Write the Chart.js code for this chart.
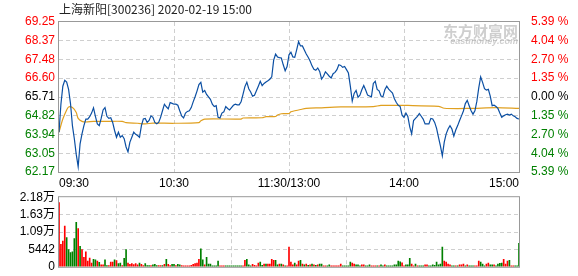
<!doctype html>
<html>
<head>
<meta charset="utf-8">
<title>上海新阳 分时图</title>
<script src="https://cdn.jsdelivr.net/npm/chart.js@4.4.1/dist/chart.umd.min.js"></script>
<style>
  html, body { margin: 0; padding: 0; background: #fff; overflow: hidden; }
  #price { position: absolute; left: 0; top: 0; }
  #volume { position: absolute; left: 0; top: 186px; }
</style>
</head>
<body>
<canvas id="price" width="578" height="190"></canvas>
<canvas id="volume" width="578" height="92"></canvas>
<script>
var TITLE = '上海新阳[300236] 2020-02-19 15:00';
var PREV_CLOSE = 65.71;

// minutes since 09:30 (lunch break removed)
var timeTicks = [0, 60, 120, 180, 240];
var timeLabels = ['09:30', '10:30', '11:30/13:00', '14:00', '15:00'];

var priceTicks = [62.17, 63.05, 63.94, 64.82, 65.71, 66.60, 67.48, 68.37, 69.25];
var pctLabels = ['5.39 %', '4.04 %', '2.70 %', '1.35 %', '0.00 %', '1.35 %', '2.70 %', '4.04 %', '5.39 %'];

var volTicks = [0, 5442, 10884, 16326, 21768];
var volLabels = ['0', '5442', '1.09万', '1.63万', '2.18万'];

// one price per minute
var price = [
  64.05,65.37,66.22,66.50,66.41,66.07,65.40,64.36,63.74,63.00,
  62.42,63.50,63.97,64.36,64.67,64.67,64.78,64.95,65.20,64.80,
  64.44,64.36,64.70,65.10,65.21,64.80,64.70,64.73,64.51,64.13,
  63.81,64.05,63.81,63.89,63.74,63.35,63.12,63.58,63.81,64.05,
  63.95,63.89,63.81,64.36,64.67,64.70,64.51,64.60,64.82,64.75,
  64.51,64.45,64.51,64.75,65.06,65.37,65.25,65.15,65.45,65.41,
  65.37,65.37,65.32,65.06,64.82,64.72,64.95,65.03,65.06,65.21,
  65.48,65.72,65.99,66.30,66.40,65.94,66.02,65.83,65.72,65.60,
  65.37,65.26,65.30,64.75,64.72,64.95,65.01,65.26,65.17,65.10,
  65.21,65.32,65.37,65.34,65.34,65.48,65.83,66.20,66.41,66.10,
  65.95,65.75,65.79,66.00,66.22,66.45,66.25,66.35,66.42,66.48,
  66.55,66.66,67.45,67.73,67.60,67.57,67.55,67.23,66.95,67.15,
  67.70,67.82,67.60,67.58,67.93,68.32,68.12,68.12,67.93,67.74,
  67.59,67.41,67.18,67.02,66.97,67.08,66.92,66.56,66.69,66.90,
  66.80,66.69,66.61,66.81,66.87,67.00,67.23,67.20,67.11,67.15,
  67.00,66.84,66.22,65.52,65.88,66.02,65.70,65.80,66.05,66.25,
  66.04,65.80,65.76,65.72,66.35,66.45,66.07,66.00,65.76,65.72,
  66.05,66.22,66.08,65.99,65.90,65.63,65.45,65.32,65.26,64.85,
  64.75,64.95,64.79,64.30,63.97,64.60,64.70,64.80,64.93,64.80,
  64.67,64.44,64.44,64.44,64.70,64.67,64.51,64.23,63.80,63.40,
  62.93,63.58,63.97,64.20,64.36,64.20,63.86,64.15,64.36,64.60,
  64.82,65.05,65.40,65.55,65.30,65.06,64.90,65.06,65.50,66.14,
  66.66,66.40,66.10,66.04,66.07,65.75,65.30,65.32,65.26,65.17,
  64.95,64.75,64.82,64.87,64.90,64.86,64.90,64.82,64.78,64.70,
  64.67
];

// average price line, read at these minutes
var avgTimes = [0,2,4,5,7,9,10,12,14,18,25,33,35,41,45,49,60,73,74,76,95,96,106,108,113,114,116,120,121,123,126,129,136,147,164,168,182,198,201,214,228,240];
var avgPrice = [64.05,64.67,65.10,65.24,65.21,64.98,64.70,64.56,64.53,64.56,64.56,64.56,64.50,64.47,64.44,64.48,64.47,64.50,64.59,64.67,64.67,64.72,64.73,64.78,64.79,64.86,64.92,64.93,65.01,65.06,65.12,65.17,65.20,65.24,65.26,65.31,65.31,65.27,65.18,65.17,65.21,65.17];

// volume per minute (shares) and direction r = up, g = down
var volume = [
  20100,7060,8040,12750,9120,5390,4410,4710,8830,13930,
  11960,6370,5390,2940,4710,1770,2750,1180,2350,2160,
  1770,1370,590,590,2160,390,390,1470,1470,2160,
  1960,980,1180,390,2650,5390,1180,780,980,690,
  980,590,1180,780,390,980,390,390,390,590,
  780,390,390,390,390,780,2350,780,390,780,
  780,390,780,590,390,290,290,290,290,490,
  780,980,1180,2350,5590,2160,590,2940,880,880,
  290,290,290,1770,290,290,290,290,290,290,
  290,290,290,290,290,290,290,2060,2350,590,
  290,780,490,290,1180,1470,490,880,880,880,
  880,2350,2060,2060,590,880,880,590,290,290,
  6180,1470,590,1180,590,1770,2060,880,590,880,
  490,590,880,590,490,590,880,880,290,290,
  290,590,290,290,290,290,290,880,290,290,
  290,290,1470,1180,880,590,590,290,590,590,
  290,290,590,290,290,290,290,290,590,290,
  590,290,290,290,290,590,590,1770,1570,1270,
  290,590,590,2650,880,290,880,290,290,290,
  290,590,590,290,290,590,490,1470,590,880,
  6180,1770,1470,880,590,290,290,290,290,590,
  590,880,290,590,290,290,290,290,290,1770,
  1470,880,290,880,1180,590,590,590,290,880,
  1080,1180,2350,880,1770,2060,290,290,290,290,
  7360
];
var volDir = ('rrrrgggggg' + 'rgrrrrrrgg' + 'rgrrggrrrg' + 'rggrggrrrr' + 'rrgrrgggrg' +
              'ggrrgrgrrg' + 'grggrrrrrr' + 'rrrrggrggg' + 'ggggrrrggg' + 'ggggggrrgg' +
              'grrrrggrgr' + 'rrrggrgrgr' + 'rrrgrrgrgr' + 'grgrgrggrr' + 'ggrrrrrrgg' +
              'gggrrgggrr' + 'gggrrrgrgg' + 'rggggggggr' + 'rgggrrgrgg' + 'grrggggggg' +
              'grrrrggrgr' + 'rrgrgggrrr' + 'gggrrggrgg' + 'ggrrrgrrgg' + 'g').split('');

var RED = '#ff0000', GREEN = '#008000', GRID = '#cfcfcf', BOX = '#999999';
var CLEAR = 'rgba(0,0,0,0)';

Chart.defaults.font.family = "'Liberation Sans', 'Noto Sans CJK SC', sans-serif";
Chart.defaults.font.size = 12;

function priceColor(v) {
  if (Math.abs(v - PREV_CLOSE) < 0.001) return '#000';
  return v > PREV_CLOSE ? RED : GREEN;
}

var boxPlugin = {
  id: 'box',
  afterDatasetsDraw: function(chart) {
    var a = chart.chartArea, ctx = chart.ctx;
    ctx.save();
    ctx.strokeStyle = BOX;
    ctx.lineWidth = 1;
    ctx.strokeRect(a.left - 0.5, a.top - 0.5, a.right - a.left + 1, a.bottom - a.top + 1);
    ctx.restore();
  }
};

var textPlugin = {
  id: 'texts',
  beforeDatasetsDraw: function(chart) {
    var a = chart.chartArea, ctx = chart.ctx;
    ctx.save();
    ctx.fillStyle = 'rgba(165,165,165,0.55)';
    ctx.textAlign = 'right';
    ctx.textBaseline = 'middle';
    ctx.font = "bold 15px 'Noto Sans CJK SC'";
    ctx.fillText('东方财富网', a.right - 1, 31);
    ctx.font = "bold italic 9px 'Liberation Sans'";
    ctx.fillText('eastmoney.com', a.right - 1, 42);
    ctx.restore();
  },
  afterDraw: function(chart) {
    var ctx = chart.ctx;
    ctx.save();
    ctx.fillStyle = '#222';
    ctx.textAlign = 'left';
    ctx.textBaseline = 'middle';
    ctx.font = "12px 'Noto Sans CJK SC'";
    ctx.fillText(TITLE, chart.chartArea.left, 9);
    ctx.restore();
  }
};

new Chart(document.getElementById('price'), {
  type: 'line',
  data: {
    datasets: [{
      label: '价格',
      data: price.map(function(v, i) { return {x: i, y: v}; }),
      borderColor: '#0b4fa3',
      borderWidth: 1.2,
      pointRadius: 0,
      tension: 0,
      order: 0
    }, {
      label: '均价',
      data: avgTimes.map(function(t, i) { return {x: t, y: avgPrice[i]}; }),
      borderColor: '#e0a020',
      borderWidth: 1.2,
      pointRadius: 0,
      tension: 0.3,
      order: 1
    }]
  },
  options: {
    responsive: false,
    animation: false,
    events: [],
    layout: { padding: { top: 22 } },
    plugins: { legend: { display: false }, tooltip: { enabled: false } },
    scales: {
      x: {
        type: 'linear', min: 0, max: 240,
        afterBuildTicks: function(s) { s.ticks = timeTicks.map(function(v) { return {value: v}; }); },
        afterFit: function(s) { s.height = 18; },
        ticks: {
          align: 'inner', maxRotation: 0, autoSkip: false, padding: 4, color: '#000',
          callback: function(v) { return timeLabels[timeTicks.indexOf(v)]; }
        },
        grid: { drawTicks: false, color: function(c) { return (c.index === 0 || c.index === 4) ? CLEAR : GRID; } },
        border: { display: false, dash: [4, 3] }
      },
      y: {
        position: 'left', min: 62.17, max: 69.25,
        afterBuildTicks: function(s) { s.ticks = priceTicks.map(function(v) { return {value: v}; }); },
        afterFit: function(s) { s.width = 59; },
        ticks: {
          padding: 4,
          color: function(c) { return priceColor(c.tick.value); },
          callback: function(v) { return v.toFixed(2); }
        },
        grid: { drawTicks: false, color: function(c) { return (c.index === 0 || c.index === 8) ? CLEAR : GRID; } },
        border: { display: false, dash: [4, 3] }
      },
      y2: {
        position: 'right', min: 62.17, max: 69.25,
        afterBuildTicks: function(s) { s.ticks = priceTicks.map(function(v) { return {value: v}; }); },
        afterFit: function(s) { s.width = 59; },
        ticks: {
          padding: 4,
          color: function(c) { return priceColor(c.tick.value); },
          callback: function(v, i) { return pctLabels[i]; }
        },
        grid: { display: false },
        border: { display: false }
      }
    }
  },
  plugins: [boxPlugin, textPlugin]
});

new Chart(document.getElementById('volume'), {
  type: 'bar',
  data: {
    datasets: [{
      label: '成交量',
      data: volume.map(function(v, i) { return {x: i, y: v}; }),
      backgroundColor: volDir.map(function(d) { return d === 'r' ? RED : GREEN; }),
      borderWidth: 0,
      barThickness: 1
    }]
  },
  options: {
    responsive: false,
    animation: false,
    events: [],
    layout: { padding: { top: 10, right: 59 } },
    plugins: { legend: { display: false }, tooltip: { enabled: false } },
    scales: {
      x: {
        type: 'linear', min: 0, max: 240, offset: false,
        afterBuildTicks: function(s) { s.ticks = timeTicks.map(function(v) { return {value: v}; }); },
        afterFit: function(s) { s.height = 8; },
        ticks: { display: false },
        grid: { drawTicks: false, color: function(c) { return (c.index === 0 || c.index === 4) ? CLEAR : GRID; } },
        border: { display: false, dash: [4, 3] }
      },
      y: {
        min: 0, max: 21768,
        afterBuildTicks: function(s) { s.ticks = volTicks.map(function(v) { return {value: v}; }); },
        afterFit: function(s) { s.width = 59; },
        ticks: {
          padding: 4, color: '#000',
          callback: function(v, i) { return volLabels[i]; }
        },
        grid: { drawTicks: false, color: function(c) { return (c.index === 0 || c.index === 4) ? CLEAR : GRID; } },
        border: { display: false, dash: [4, 3] }
      }
    }
  },
  plugins: [boxPlugin]
});
</script>
</body>
</html>
